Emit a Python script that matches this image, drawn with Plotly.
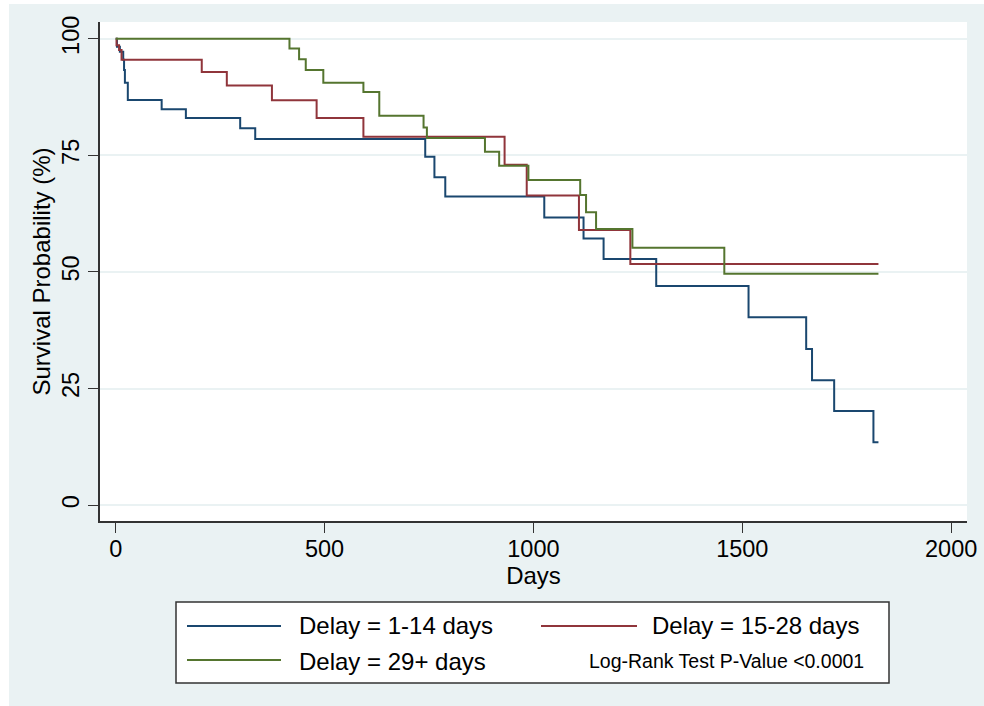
import plotly.graph_objects as go

# ---- data (days, survival %) ----
days_1_14 = [0, 3, 10, 18, 20, 22, 29, 110, 168, 298, 334, 741, 763, 789, 1026, 1120, 1168, 1294, 1515, 1653, 1667, 1720, 1814, 1826]
surv_1_14 = [100, 98.3, 97.2, 95.5, 93.3, 90.6, 86.9, 84.9, 83.0, 80.8, 78.5, 74.7, 70.3, 66.2, 61.7, 57.2, 52.8, 47.0, 40.3, 33.5, 26.8, 20.2, 13.5, 13.5]

days_15_28 = [0, 2, 8, 14, 206, 266, 374, 481, 593, 931, 984, 1109, 1232, 1826]
surv_15_28 = [100, 98.6, 97.6, 95.5, 92.9, 90.0, 86.8, 83.0, 79.0, 73.0, 66.4, 59.0, 51.7, 51.7]

days_29 = [0, 416, 439, 455, 497, 593, 631, 737, 745, 884, 918, 988, 1112, 1126, 1150, 1237, 1457, 1826]
surv_29 = [100, 97.9, 95.6, 93.3, 90.6, 88.6, 83.5, 81.0, 78.7, 75.8, 72.8, 69.7, 66.5, 62.8, 59.2, 55.2, 49.6, 49.6]

series_names = ["Delay = 1-14 days", "Delay = 15-28 days", "Delay = 29+ days"]
series_colors = ["#1a476f", "#90353b", "#55752f"]
x_ticks = [0, 500, 1000, 1500, 2000]
y_ticks = [0, 25, 50, 75, 100]
pvalue_text = "Log-Rank Test P-Value <0.0001"

FONT = "Liberation Sans"
BG = "#eaf2f3"

# ---- layout geometry (pixels) ----
W, H = 984, 706
L, R, T, B = 100, 17, 22, 185
pw, ph = W - L - R, H - T - B


def px(x):
    return (x - L) / pw


def py(y):
    return (H - B - y) / ph


fig = go.Figure()
for d, s, name, col in zip([days_1_14, days_15_28, days_29],
                           [surv_1_14, surv_15_28, surv_29],
                           series_names, series_colors):
    fig.add_trace(go.Scatter(x=d, y=s, mode="lines", name=name,
                             line=dict(color=col, width=2, shape="hv"),
                             showlegend=False, hoverinfo="skip"))

shapes = []
# light graph region background
shapes.append(dict(type="rect", xref="paper", yref="paper", layer="below",
                   x0=px(9), x1=px(W), y0=py(4), y1=py(H),
                   fillcolor=BG, line=dict(width=0)))
# white plot region
shapes.append(dict(type="rect", xref="paper", yref="paper", layer="below",
                   x0=0, x1=1, y0=0, y1=1,
                   fillcolor="white", line=dict(width=0)))
# legend box
shapes.append(dict(type="rect", xref="paper", yref="paper",
                   x0=px(176), x1=px(889), y0=py(602), y1=py(683),
                   fillcolor="white", line=dict(color="#333333", width=1.5)))
# legend samples
legend_pos = [(187, 281, 626, 297, 626), (541, 637, 626, 650, 626), (187, 281, 660, 297, 661)]
annotations = []
for (x0, x1, yl, xt, yt), name, col in zip(legend_pos, series_names, series_colors):
    shapes.append(dict(type="line", xref="paper", yref="paper",
                       x0=px(x0), x1=px(x1), y0=py(yl), y1=py(yl),
                       line=dict(color=col, width=2)))
    annotations.append(dict(xref="paper", yref="paper", x=px(xt), y=py(yt),
                            xanchor="left", yanchor="middle", showarrow=False,
                            text=name, font=dict(family=FONT, size=24, color="black")))
annotations.append(dict(xref="paper", yref="paper", x=px(866), y=py(661),
                        xanchor="right", yanchor="middle", showarrow=False,
                        text=pvalue_text, font=dict(family=FONT, size=19.5, color="black")))

fig.update_layout(
    width=W, height=H,
    margin=dict(l=L, r=R, t=T, b=B, pad=0, autoexpand=False),
    paper_bgcolor="white", plot_bgcolor="white",
    font=dict(family=FONT, color="black"),
    shapes=shapes, annotations=annotations,
    xaxis=dict(range=[-37.6, 2038], tickvals=x_ticks, ticks="outside", ticklen=10,
               tickwidth=1.2, tickcolor="#333333", showline=True, linecolor="#333333",
               linewidth=1.5, showgrid=False, zeroline=False, ticklabelstandoff=-4,
               automargin=False,
               tickfont=dict(size=23.5, family=FONT, color="black"),
               title=dict(text="Days", font=dict(size=24, family=FONT, color="black"), standoff=0)),
    yaxis=dict(range=[-3.4, 103.6], tickvals=y_ticks, ticks="outside", ticklen=10,
               tickwidth=1.2, tickcolor="#333333", showline=True, linecolor="#333333",
               linewidth=1.5, showgrid=True, gridcolor=BG, gridwidth=2, zeroline=False,
               tickangle=-90, automargin=False,
               tickfont=dict(size=23.5, family=FONT, color="black"),
               title=dict(text="Survival Probability (%)", font=dict(size=24, family=FONT, color="black"), standoff=0)),
)

fig.write_html("out.html", config={"displayModeBar": False},
               post_script="document.body.style.margin='0';")
